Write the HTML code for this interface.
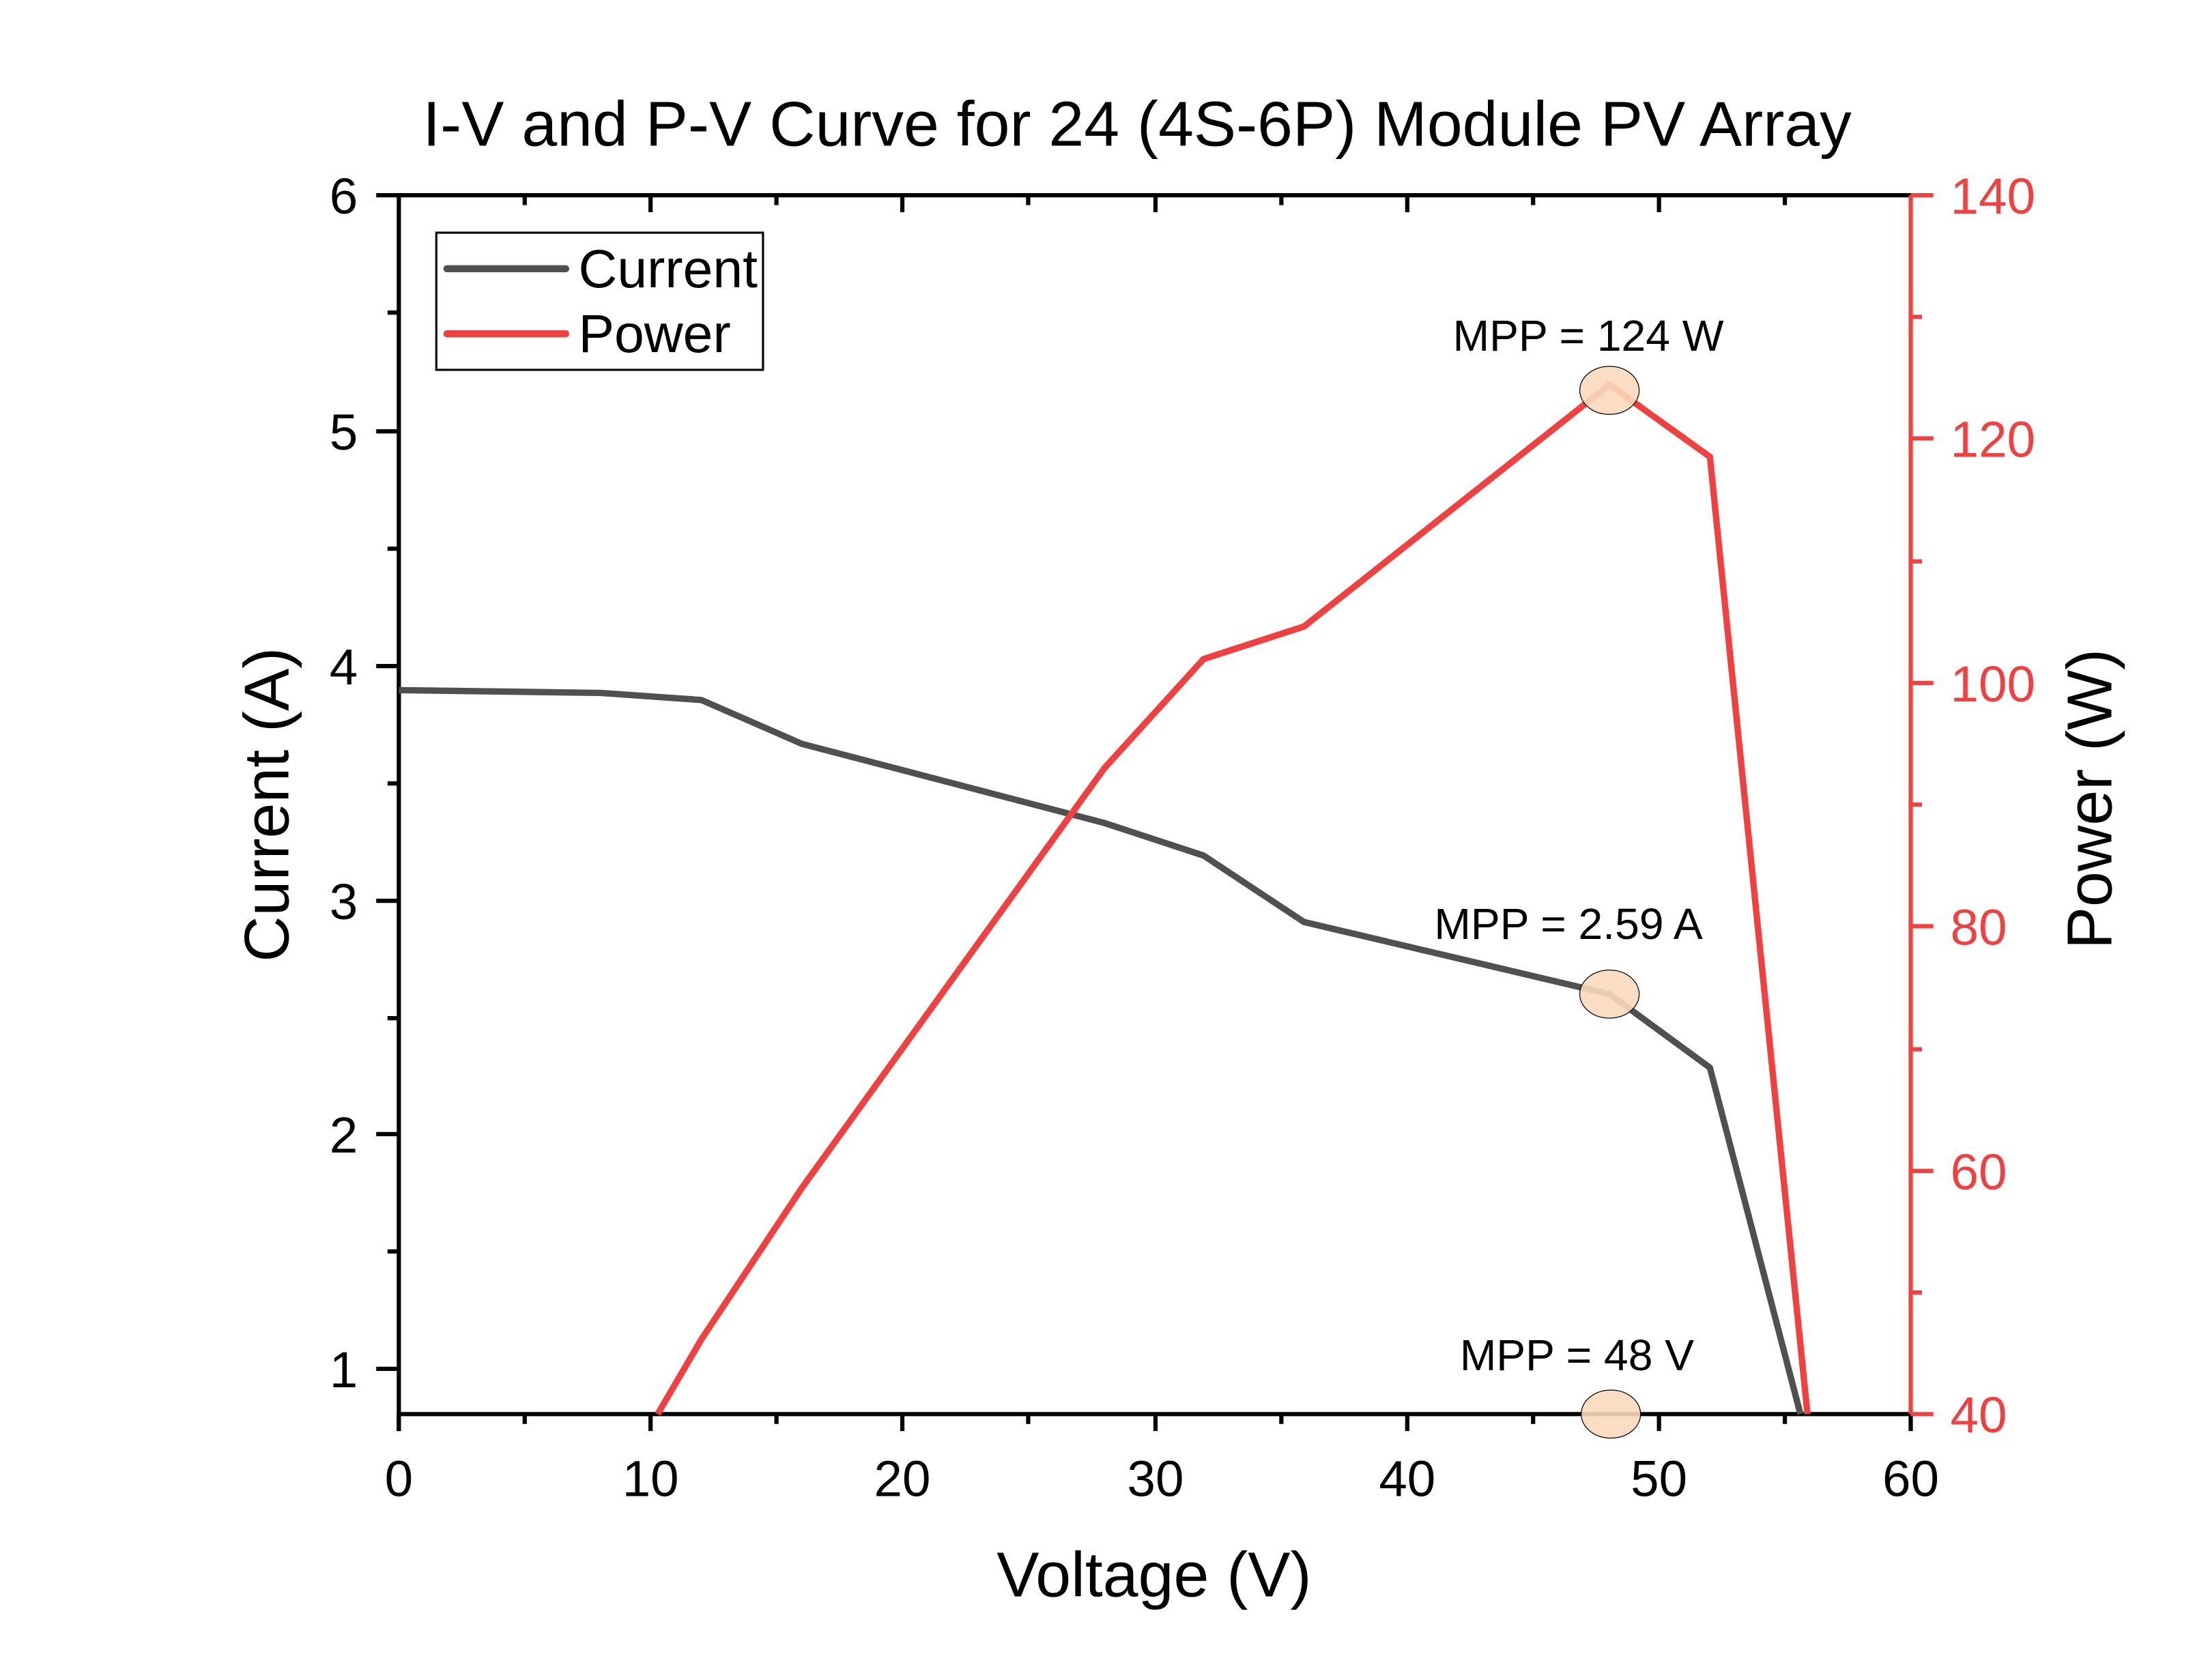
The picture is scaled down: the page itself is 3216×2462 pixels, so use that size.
<!DOCTYPE html>
<html><head><meta charset="utf-8"><style>html,body{margin:0;padding:0;background:#fff}svg{display:block}</style></head>
<body>
<svg width="3216" height="2462" viewBox="0 0 1552 1188" xmlns="http://www.w3.org/2000/svg" font-family="Liberation Sans, Arial, sans-serif">
<rect width="1552" height="1188" fill="#fff"/>
<text x="804" y="103" font-size="45" text-anchor="middle">I-V and P-V Curve for 24 (4S-6P) Module PV Array</text>
<g stroke="#000" stroke-width="3" fill="none">
<line x1="266" y1="138" x2="1351" y2="138"/>
<line x1="282" y1="138" x2="282" y2="1012"/>
<line x1="282" y1="1000" x2="1351" y2="1000"/>
<g>
<line x1="282" y1="1000" x2="282" y2="1012"/><line x1="460" y1="1000" x2="460" y2="1012"/><line x1="638" y1="1000" x2="638" y2="1012"/><line x1="817" y1="1000" x2="817" y2="1012"/><line x1="995" y1="1000" x2="995" y2="1012"/><line x1="1173" y1="1000" x2="1173" y2="1012"/><line x1="1351" y1="1000" x2="1351" y2="1012"/>
<line x1="371" y1="1000" x2="371" y2="1007"/><line x1="549" y1="1000" x2="549" y2="1007"/><line x1="727" y1="1000" x2="727" y2="1007"/><line x1="906" y1="1000" x2="906" y2="1007"/><line x1="1084" y1="1000" x2="1084" y2="1007"/><line x1="1262" y1="1000" x2="1262" y2="1007"/>
</g>
<g>
<line x1="460" y1="138" x2="460" y2="150"/><line x1="638" y1="138" x2="638" y2="150"/><line x1="817" y1="138" x2="817" y2="150"/><line x1="995" y1="138" x2="995" y2="150"/><line x1="1173" y1="138" x2="1173" y2="150"/>
<line x1="371" y1="138" x2="371" y2="145"/><line x1="549" y1="138" x2="549" y2="145"/><line x1="727" y1="138" x2="727" y2="145"/><line x1="906" y1="138" x2="906" y2="145"/><line x1="1084" y1="138" x2="1084" y2="145"/><line x1="1262" y1="138" x2="1262" y2="145"/>
</g>
<g>
<line x1="266" y1="305" x2="282" y2="305"/><line x1="266" y1="471" x2="282" y2="471"/><line x1="266" y1="637" x2="282" y2="637"/><line x1="266" y1="802" x2="282" y2="802"/><line x1="266" y1="968" x2="282" y2="968"/>
<line x1="274" y1="221" x2="282" y2="221"/><line x1="274" y1="388" x2="282" y2="388"/><line x1="274" y1="554" x2="282" y2="554"/><line x1="274" y1="720" x2="282" y2="720"/><line x1="274" y1="885" x2="282" y2="885"/>
</g>
</g>
<g stroke="#f04040" stroke-width="3">
<line x1="1351" y1="138" x2="1351" y2="1000"/>
<line x1="1351" y1="138" x2="1367" y2="138"/><line x1="1351" y1="310" x2="1367" y2="310"/><line x1="1351" y1="483" x2="1367" y2="483"/><line x1="1351" y1="655" x2="1367" y2="655"/><line x1="1351" y1="828" x2="1367" y2="828"/><line x1="1351" y1="1000" x2="1367" y2="1000"/>
<line x1="1351" y1="224" x2="1359" y2="224"/><line x1="1351" y1="397" x2="1359" y2="397"/><line x1="1351" y1="569" x2="1359" y2="569"/><line x1="1351" y1="742" x2="1359" y2="742"/><line x1="1351" y1="914" x2="1359" y2="914"/>
</g>
<g font-size="36" text-anchor="middle">
<text x="282" y="1058">0</text><text x="460" y="1058">10</text><text x="638" y="1058">20</text><text x="817" y="1058">30</text><text x="995" y="1058">40</text><text x="1173" y="1058">50</text><text x="1351" y="1058">60</text>
</g>
<g font-size="36" text-anchor="end">
<text x="253" y="151">6</text><text x="253" y="318">5</text><text x="253" y="484">4</text><text x="253" y="650">3</text><text x="253" y="815">2</text><text x="253" y="981">1</text>
</g>
<g font-size="36" fill="#f04040">
<text x="1379" y="151">140</text><text x="1379" y="323">120</text><text x="1379" y="496">100</text><text x="1379" y="668">80</text><text x="1379" y="841">60</text><text x="1379" y="1013">40</text>
</g>
<text x="816" y="1129" font-size="45" text-anchor="middle">Voltage (V)</text>
<text transform="translate(204,569) rotate(-90)" font-size="45" text-anchor="middle">Current (A)</text>
<text transform="translate(1493,565) rotate(-90)" font-size="45" text-anchor="middle">Power (W)</text>
<polyline fill="none" stroke="#505050" stroke-width="4.5" stroke-linejoin="round" points="282,488 425,490 496,495 567,526 781,582 851,605 922,652 1138,703 1209,755 1273,1000"/>
<polyline fill="none" stroke="#f04040" stroke-width="4.5" stroke-linejoin="round" points="465,1000 496,947 567,840 781,543 851,466 922,443 1138,272 1209,323 1278,1000"/>
<g fill="#fad9bc" stroke="#000" stroke-width="0.6" fill-opacity="0.9">
<ellipse cx="1138" cy="276" rx="21" ry="17"/>
<ellipse cx="1138" cy="703" rx="21" ry="17"/>
<ellipse cx="1139" cy="1000" rx="21" ry="17"/>
</g>
<g font-size="31" text-anchor="middle">
<text x="1123" y="248">MPP = 124 W</text>
<text x="1109" y="664">MPP = 2.59 A</text>
<text x="1115" y="969">MPP = 48 V</text>
</g>
<rect x="308.5" y="164.5" width="231" height="97" fill="#fff" stroke="#000" stroke-width="1.5"/>
<line x1="316" y1="190" x2="400" y2="190" stroke="#505050" stroke-width="5" stroke-linecap="round"/>
<line x1="316" y1="236" x2="400" y2="236" stroke="#f04040" stroke-width="5" stroke-linecap="round"/>
<text x="409" y="203" font-size="38">Current</text>
<text x="409" y="249" font-size="38">Power</text>
</svg>
</body></html>
